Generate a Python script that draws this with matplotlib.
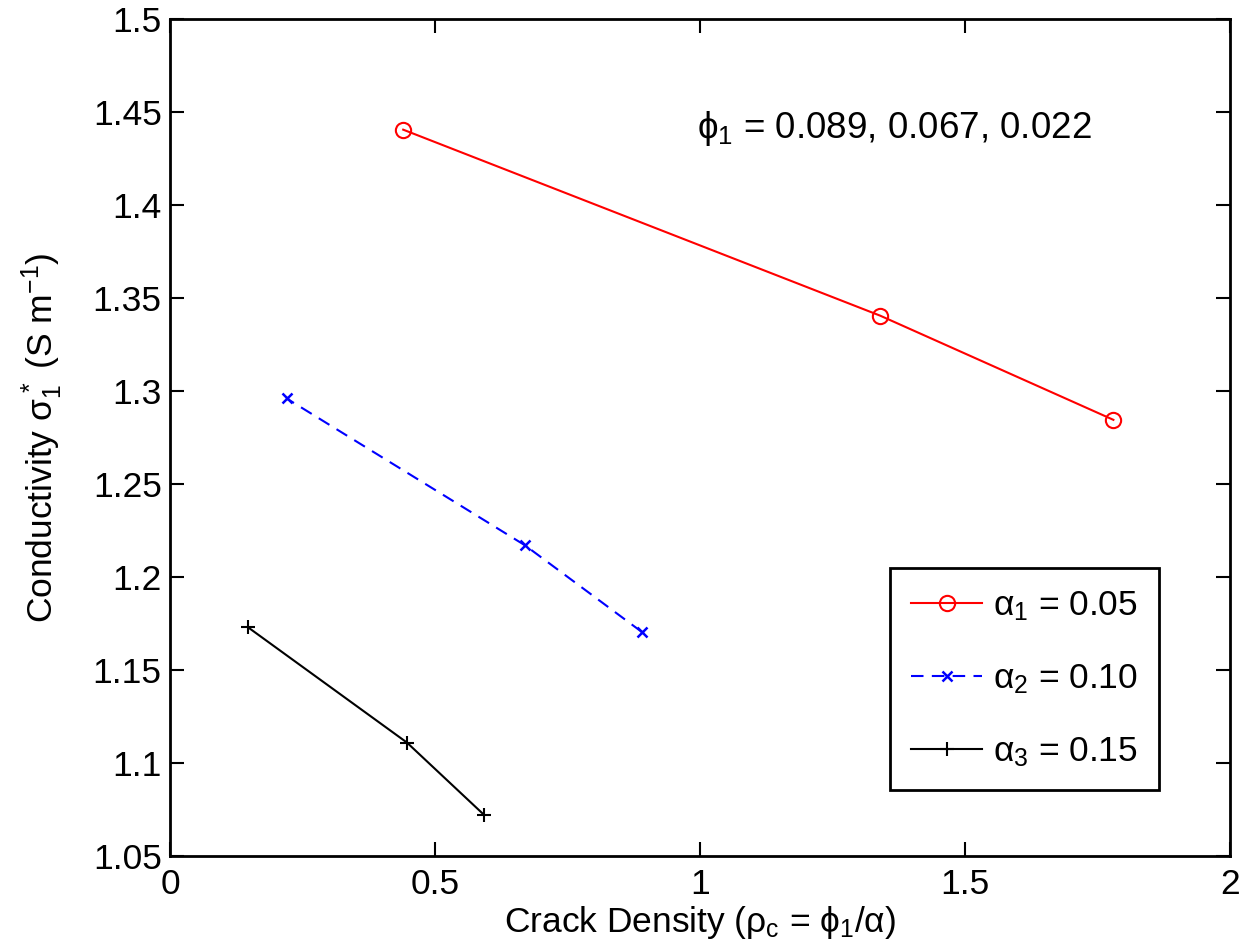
import matplotlib.pyplot as plt

plt.rcParams['font.family'] = 'Liberation Sans'
plt.rcParams['mathtext.fontset'] = 'custom'
plt.rcParams['mathtext.rm'] = 'Liberation Sans'
plt.rcParams['mathtext.it'] = 'Liberation Sans'
plt.rcParams['mathtext.bf'] = 'Liberation Sans:bold'

# crack density rho_c = phi_1 / alpha for phi_1 = 0.089, 0.067, 0.022
rho_a1 = [1.78, 1.34, 0.44]
sig_a1 = [1.2845, 1.3405, 1.4405]
rho_a2 = [0.89, 0.67, 0.22]
sig_a2 = [1.1705, 1.2170, 1.2960]
rho_a3 = [0.593, 0.447, 0.147]
sig_a3 = [1.0720, 1.1110, 1.1730]

xticks = [0, 0.5, 1, 1.5, 2]
yticks = [1.05, 1.1, 1.15, 1.2, 1.25, 1.3, 1.35, 1.4, 1.45, 1.5]
yticklabels = ['1.05', '1.1', '1.15', '1.2', '1.25', '1.3', '1.35', '1.4', '1.45', '1.5']

fs = 25.5

fig = plt.figure(figsize=(12.55, 9.49), dpi=100)
ax = fig.add_axes([170/1255, 93/949, 1060/1255, 837/949])

ax.plot(rho_a1, sig_a1, '-o', color='red', lw=1.5, ms=11, mfc='none', mew=1.5,
        label=r'$\alpha_1$ = 0.05')
ax.plot(rho_a2, sig_a2, '--x', color='blue', lw=1.5, ms=7, mew=1.8, dashes=(6, 4),
        label=r'$\alpha_2$ = 0.10')
ax.plot(rho_a3, sig_a3, '-+', color='black', lw=1.5, ms=10, mew=1.5,
        label=r'$\alpha_3$ = 0.15')

ax.set_xlim(0, 2)
ax.set_ylim(1.05, 1.5)
ax.set_xticks(xticks)
ax.set_xticklabels(['0', '0.5', '1', '1.5', '2'])
ax.set_yticks(yticks)
ax.set_yticklabels(yticklabels)
ax.tick_params(direction='in', length=10, width=1.5, labelsize=fs, top=True, right=True)
ax.tick_params(axis='x', pad=9)
ax.tick_params(axis='y', pad=6)
for s in ax.spines.values():
    s.set_linewidth(2)

ax.text(0.995, 1.441, r'$\phi_1$ = 0.089, 0.067, 0.022', fontsize=26.5, va='center')

ax.set_xlabel(r'Crack Density ($\rho_c$ = $\phi_1$/$\alpha$)', fontsize=fs, labelpad=2)
ax.set_ylabel(r'Conductivity $\sigma_1^*$ (S m$^{-1}$)', fontsize=fs, labelpad=20)

leg = ax.legend(loc='lower right', bbox_to_anchor=(0.933, 0.079), borderaxespad=0,
                fontsize=fs, fancybox=False, edgecolor='black', framealpha=1,
                handlelength=2.0, labelspacing=1.1, borderpad=0.6, handletextpad=0.3)
leg.get_frame().set_linewidth(2)

fig.savefig('out.png', dpi=100)
